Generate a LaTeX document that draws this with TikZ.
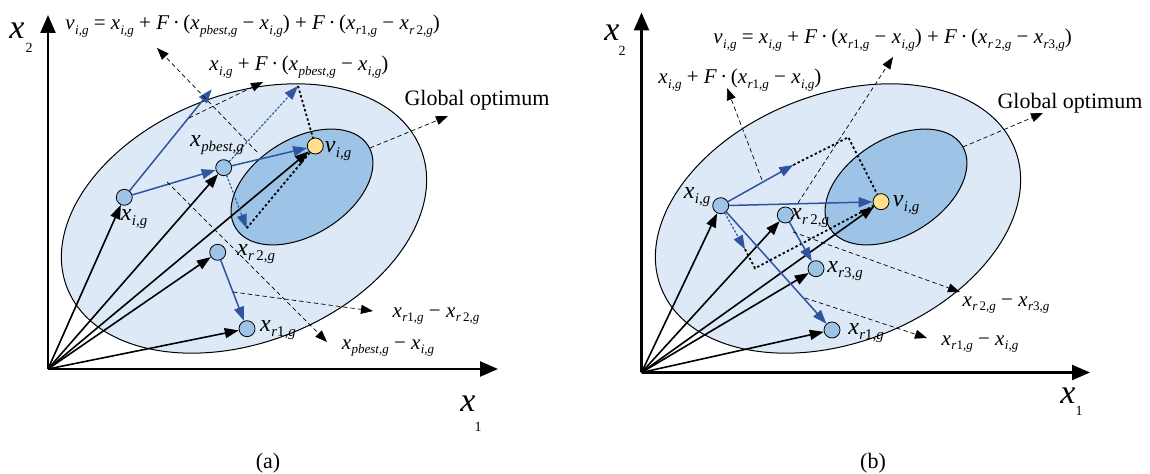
\documentclass[tikz,border=0pt]{standalone}
\usepackage{fontspec}
\setmainfont{Liberation Serif}
\usetikzlibrary{arrows.meta}
\definecolor{outerfill}{RGB}{221,233,246}
\definecolor{innerfill}{RGB}{157,195,230}
\definecolor{ptfill}{RGB}{157,195,230}
\definecolor{vfill}{RGB}{255,224,140}
\definecolor{bluearr}{RGB}{47,85,160}
\newcommand\V[2]{\textit{#1}\kern0.02em\raisebox{-0.5ex}{\scalebox{0.62}{\itshape #2}}}
\tikzset{
  pt/.style={circle, draw, line width=0.4pt, fill=ptfill, minimum size=8pt, inner sep=0pt},
  vpt/.style={pt, fill=vfill},
  blk/.style={line width=0.8pt, -{Triangle[length=7pt,width=5pt]}},
  blu/.style={draw=bluearr, fill=bluearr, line width=0.75pt, -{Triangle[length=7pt,width=5pt]}},
  bludot/.style={draw=bluearr, fill=bluearr, line width=0.6pt, dash pattern=on 1pt off 1pt, -{Triangle[length=7pt,width=5pt]}},
  kdot/.style={line width=0.9pt, dash pattern=on 1.2pt off 1.2pt},
  lead/.style={line width=0.35pt, dash pattern=on 2.2pt off 1.5pt, -{Triangle[length=6pt,width=4.5pt]}},
  axisarr/.style={line width=1.2pt, -{Triangle[length=9pt,width=7.5pt]}},
  lbl/.style={inner sep=0pt, font=\fontsize{12}{14}\selectfont},
  frm/.style={inner sep=0pt, font=\fontsize{10.5}{12}\selectfont},
  gtxt/.style={inner sep=0pt, font=\fontsize{11}{13}\selectfont},
  axl/.style={inner sep=0pt, font=\fontsize{17}{19}\selectfont\itshape},
  axs/.style={inner sep=0pt, font=\fontsize{7}{8}\selectfont},
  outerell/.style={draw, line width=0.5pt, fill=outerfill},
  innerell/.style={draw, line width=0.5pt, fill=innerfill},
}
\begin{document}
\begin{tikzpicture}[x=0.5pt,y=-0.5pt]
\useasboundingbox (0,0) rectangle (1150,474);
% ================= panel (a) =================
\draw[outerell, shift={(244,218.5)}, rotate=21.4] (0,0) ellipse [x radius=190, y radius=124];
\draw[innerell, shift={(302,187)}, rotate=31.8] (0,0) ellipse [x radius=78, y radius=48];
\coordinate (Oa) at (48,369);
\coordinate (Ya) at (48,15);
\coordinate (Xa) at (498,369);
\draw[axisarr] (Oa) -- (Ya);
\draw[axisarr] (Oa) -- (Xa);
\node[axl] (x2a) at (17,31) {x};
\node[axs] (s2a) at (29,48) {2};
\node[axl] (x1a) at (468,404) {x};
\node[axs] (s1a) at (478,427) {1};

\node[pt] (xia) at (124.3,197.3) {};
\node[pt] (xpa) at (223.7,167.7) {};
\node[vpt] (via) at (315.3,146) {};
\node[pt] (xr2a) at (217.7,252.3) {};
\node[pt] (xr1a) at (247,328.7) {};

\foreach \n in {xia,xpa,via,xr2a,xr1a} \draw[blk] (Oa) -- (\n);

\coordinate (ta1) at (211.7,89.3);
\coordinate (ta2) at (298,86);
\coordinate (tb1) at (246.7,228.3);
\draw[blu] (xia) -- (ta1);
\draw[blu] (xia) -- (xpa);
\draw[blu] (xpa) -- (via);
\draw[bludot] (xpa) -- (ta2);
\draw[bludot] (xpa) -- (tb1);
\draw[kdot] (ta2) -- (via);
\draw[kdot] (tb1) -- (via);
\draw[blu] (xr2a) -- (xr1a);

\coordinate (la1s) at (257,152); \coordinate (la1e) at (157,48);
\coordinate (la2s) at (167,182); \coordinate (la2e) at (327,342);
\coordinate (la3s) at (189,118); \coordinate (la3e) at (263,82);
\coordinate (la4s) at (233,292); \coordinate (la4e) at (373,311);
\coordinate (la5s) at (370,148); \coordinate (la5e) at (448,116);
\draw[lead] (la1s) -- (la1e);
\draw[lead] (la2s) -- (la2e);
\draw[lead] (la3s) -- (la3e);
\draw[lead] (la4s) -- (la4e);
\draw[lead] (la5s) -- (la5e);

\node[lbl] (Lxia) at (134,219) {\V{x}{i,g}};
\node[lbl] (Lxpa) at (217,145) {\V{x}{pbest,g}};
\node[lbl] (Lvia) at (338,151) {\V{v}{i,g}};
\node[lbl] (Lxr2a) at (256,254) {\V{x}{r\,\upshape 2,\itshape g}};
\node[lbl] (Lxr1a) at (278,330) {\V{x}{r\upshape 1,\itshape g}};
\node[frm] (LD1a) at (436,316) {\V{x}{r\upshape 1,\itshape g} − \V{x}{r\,\upshape 2,\itshape g}};
\node[frm] (LD2a) at (388,348) {\V{x}{pbest,g} − \V{x}{i,g}};
\node[frm, anchor=west] (LFa) at (209,67) {\V{x}{i,g} + \textit{F}\,·\,(\V{x}{pbest,g} − \V{x}{i,g})};
\node[frm, anchor=west] (LVa) at (65,26) {\V{v}{i,g} = \V{x}{i,g} + \textit{F}\,·\,(\V{x}{pbest,g} − \V{x}{i,g}) + \textit{F}\,·\,(\V{x}{r\upshape 1,\itshape g} − \V{x}{r\,\upshape 2,\itshape g})};
\node[gtxt] (LGa) at (477,100) {Global optimum};
\node[gtxt] (capa) at (268,463) {(a)};

% ================= panel (b) =================
\draw[outerell, shift={(838,218.5)}, rotate=21.4] (0,0) ellipse [x radius=190, y radius=124];
\draw[innerell, shift={(896,187)}, rotate=31.8] (0,0) ellipse [x radius=78, y radius=48];
\coordinate (Ob) at (641.5,372.5);
\coordinate (Yb) at (641.5,12.5);
\coordinate (Xb) at (1090,372.5);
\draw[axisarr] (Ob) -- (Yb);
\draw[axisarr] (Ob) -- (Xb);
\node[axl] (x2b) at (612,33) {x};
\node[axs] (s2b) at (622,51) {2};
\node[axl] (x1b) at (1068,396) {x};
\node[axs] (s1b) at (1079,411) {1};

\node[pt] (xib) at (720.7,205.7) {};
\node[pt] (xr2b) at (785.3,215) {};
\node[pt] (xr3b) at (816,268.7) {};
\node[pt] (xr1b) at (832,330) {};
\node[vpt] (vib) at (881,201.7) {};

\foreach \n in {xib,xr2b,xr3b,xr1b,vib} \draw[blk] (Ob) -- (\n);

\coordinate (tc1) at (793.3,165);
\coordinate (cc1) at (848.3,137.3);
\coordinate (tc2) at (745,249.3);
\coordinate (cc2) at (755,268.3);
\draw[blu] (xib) -- (vib);
\draw[blu] (xib) -- (tc1);
\draw[kdot] (tc1) -- (cc1) -- (vib);
\draw[blu] (xib) -- (xr1b);
\draw[bludot] (xib) -- (tc2);
\draw[kdot] (tc2) -- (cc2) -- (vib);
\draw[blu] (xr2b) -- (xr3b);

\coordinate (lb1s) at (762,180); \coordinate (lb1e) at (727,88);
\coordinate (lb2s) at (798,203); \coordinate (lb2e) at (893,57);
\coordinate (lb3s) at (793,232); \coordinate (lb3e) at (960,292);
\coordinate (lb4s) at (805,298); \coordinate (lb4e) at (927,338);
\coordinate (lb5s) at (963,147); \coordinate (lb5e) at (1043,113);
\draw[lead] (lb1s) -- (lb1e);
\draw[lead] (lb2s) -- (lb2e);
\draw[lead] (lb3s) -- (lb3e);
\draw[lead] (lb4s) -- (lb4e);
\draw[lead] (lb5s) -- (lb5e);

\node[lbl] (Lxib) at (697,197) {\V{x}{i,g}};
\node[lbl] (Lxr2b) at (810,218) {\V{x}{r\,\upshape 2,\itshape g}};
\node[lbl] (Lxr3b) at (845,271) {\V{x}{r\upshape 3,\itshape g}};
\node[lbl] (Lxr1b) at (866,333) {\V{x}{r\upshape 1,\itshape g}};
\node[lbl] (Lvib) at (906,205) {\V{v}{i,g}};
\node[frm] (LD1b) at (1006,305) {\V{x}{r\,\upshape 2,\itshape g} − \V{x}{r\upshape 3,\itshape g}};
\node[frm] (LD2b) at (980,344) {\V{x}{r\upshape 1,\itshape g} − \V{x}{i,g}};
\node[frm, anchor=west] (LFb) at (658,80) {\V{x}{i,g} + \textit{F}\,·\,(\V{x}{r\upshape 1,\itshape g} − \V{x}{i,g})};
\node[frm, anchor=west] (LVb) at (713,40) {\V{v}{i,g} = \V{x}{i,g} + \textit{F}\,·\,(\V{x}{r\upshape 1,\itshape g} − \V{x}{i,g}) + \textit{F}\,·\,(\V{x}{r\,\upshape 2,\itshape g} − \V{x}{r\upshape 3,\itshape g})};
\node[gtxt] (LGb) at (1070,103) {Global optimum};
\node[gtxt] (capb) at (873,463) {(b)};
\end{tikzpicture}
\end{document}
